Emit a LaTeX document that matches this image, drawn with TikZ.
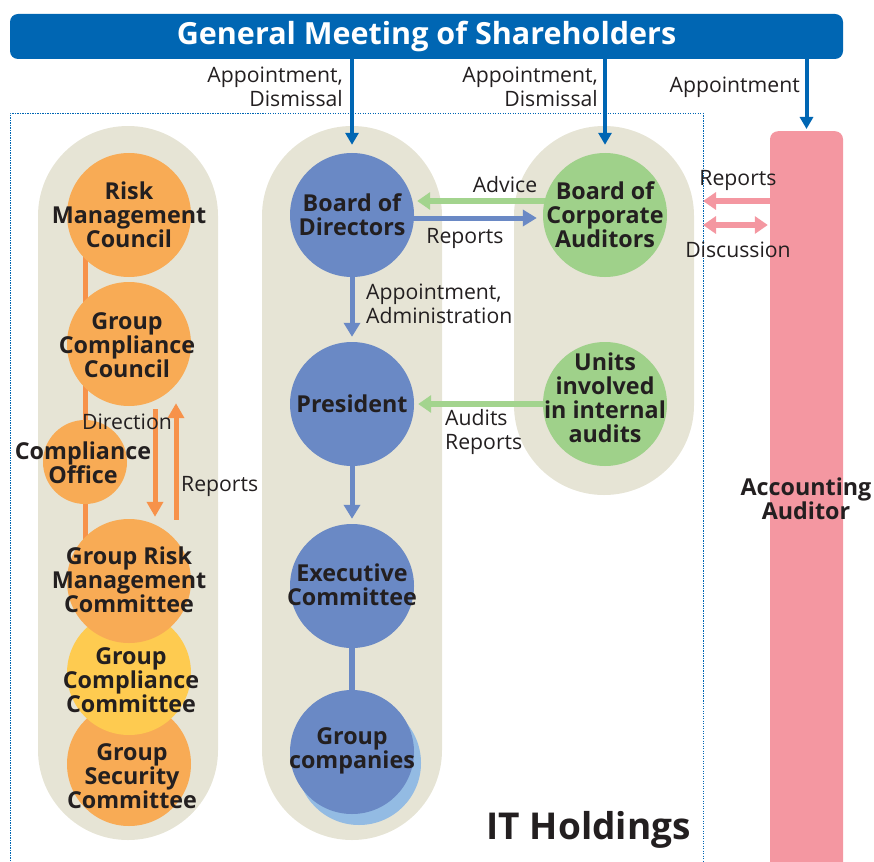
\documentclass[tikz,border=0pt]{standalone}
\usepackage{fontspec}
\setmainfont{Open Sans}
\usetikzlibrary{arrows.meta}
\pgfdeclarelayer{bg}
\pgfdeclarelayer{mid}
\pgfsetlayers{bg,mid,main}
\definecolor{topblue}{HTML}{0066B3}
\definecolor{pillc}{HTML}{E6E4D5}
\definecolor{orangec}{HTML}{F8AB55}
\definecolor{orangel}{HTML}{F7924A}
\definecolor{yellowc}{HTML}{FECB50}
\definecolor{bluec}{HTML}{6A89C5}
\definecolor{shadowc}{HTML}{93BBE3}
\definecolor{greenc}{HTML}{9FD18A}
\definecolor{greena}{HTML}{A3D48E}
\definecolor{pinkc}{HTML}{F497A1}
\definecolor{txt}{HTML}{231F20}
\begin{document}
\begin{tikzpicture}[x=1pt,y=-1pt,
  circ/.style={circle,minimum size=124pt,inner sep=0pt},
  btxt/.style={align=center,text=txt,font=\bfseries\fontsize{23.3}{24}\selectfont,inner sep=0pt},
  lbl/.style={text=txt,font=\fontsize{21.2}{24}\selectfont,inner sep=0pt},
  pill/.style={fill=pillc,rounded corners=89.9pt},
  tarr/.style={draw=topblue,line width=4pt,-{Triangle[width=13pt,length=12pt]}},
  barr/.style={draw=bluec,line width=5pt,-{Triangle[width=16pt,length=14pt]}},
  oarr/.style={draw=orangel,line width=5pt,-{Triangle[width=16pt,length=15pt]}},
  garr/.style={draw=greena,line width=6pt,-{Triangle[width=17pt,length=13pt]}},
  parr/.style={draw=pinkc,line width=6pt,-{Triangle[width=17pt,length=13pt]}},
  pdarr/.style={draw=pinkc,line width=6pt,{Triangle[width=17pt,length=13pt]}-{Triangle[width=17pt,length=13pt]}}
]
\useasboundingbox (0,0) rectangle (874,861);

% beige pills
\begin{pgfonlayer}{bg}
\fill[pill] (38,126) rectangle (218,840);
\fill[pill] (262,126) rectangle (442,840);
\fill[pill] (514,126) rectangle (694,495);
\draw[topblue,line width=0.9pt,dash pattern=on 1.2pt off 1.3pt] (10,861) -- (10,113.5) -- (703,113.5) -- (703,861);
\end{pgfonlayer}

% top bar
\node[fill=topblue,rounded corners=8pt,minimum width=833pt,minimum height=45pt,inner sep=0pt,
      text=white,font=\bfseries\fontsize{30.5}{32}\selectfont] (gms) at (426.5,36.5) {General Meeting of Shareholders};

% accounting auditor bar
\node[fill=pinkc,rounded corners=8pt,minimum width=73pt,minimum height=746pt,inner sep=0pt,anchor=north] (acc) at (806.5,131) {};
\node[btxt] (acct) at (806,499) {Accounting\\Auditor};

% left column circles
\node[circ,fill=orangec] (gsc) at (129,764) {};
\node[circ,fill=yellowc] (gccm) at (129,673) {};
\node[circ,fill=orangec] (grmc) at (129,581) {};
\node[circ,fill=orangec] (rmc) at (129,215) {};
\node[circ,fill=orangec] (gcc) at (129,344) {};
\node[circle,minimum size=84pt,inner sep=0pt,fill=orangec] (co) at (85,462) {};

% middle column circles
\node[circ,fill=bluec] (bod) at (352,215) {};
\node[circ,fill=bluec] (pres) at (352,404) {};
\node[circ,fill=bluec] (exec) at (352,586) {};
\node[circ,fill=shadowc] (gcs) at (359,763) {};
\node[circ,fill=bluec] (gc) at (352,752) {};

% right column circles
\node[circ,fill=greenc] (bca) at (605,215) {};
\node[circ,fill=greenc] (units) at (605,404) {};

% connectors (behind circles)
\begin{pgfonlayer}{mid}
\draw[orangel,line width=5pt] (rmc.center -| co.center) -- (grmc.center -| co.center);
\draw[bluec,line width=6pt] (exec) -- (gc);
\draw[tarr,shorten >=8pt] (gms.south -| bod.north) -- (bod.north);
\draw[tarr,shorten >=8pt] (gms.south -| bca.north) -- (bca.north);
\draw[tarr,shorten >=2pt] (gms.south -| acc.north) -- (acc.north);
\draw[barr,shorten >=5pt] (bod) -- (pres);
\draw[barr,shorten >=5pt] (pres) -- (exec);
\draw[garr] ([yshift=14pt]bca.center) -- ([xshift=3pt,yshift=14pt]bod.east);
\draw[barr] ([yshift=-3pt]bod.center) -- ([xshift=-6pt,yshift=-3pt]bca.west);
\draw[garr] (units.center) -- ([xshift=4pt]pres.east);
\draw[oarr,shorten <=3pt,shorten >=2pt] ([xshift=26pt]gcc.south) -- ([xshift=26pt]grmc.north);
\draw[oarr,shorten <=-1pt,shorten >=-3pt] ([xshift=47pt]grmc.north) -- ([xshift=47pt]gcc.south);
\coordinate (pr1) at (703,201);
\coordinate (pr2) at (703,225);
\draw[parr] (pr1 -| acc.west) -- (pr1);
\draw[pdarr] (pr2) -- ([xshift=-2pt]pr2 -| acc.west);
\end{pgfonlayer}

% circle texts
\node[btxt] (rmct) at (129,215) {Risk\\Management\\Council};
\node[btxt] (gcct) at (127,345) {Group\\Compliance\\Council};
\node[btxt] (cot) at (83,463) {Compliance\\Office};
\node[btxt] (grmct) at (129,580) {Group Risk\\Management\\Committee};
\node[btxt] (gccmt) at (131,680) {Group\\Compliance\\Committee};
\node[btxt] (gsct) at (132,776) {Group\\Security\\Committee};
\node[btxt] (bodt) at (352,215) {Board of\\Directors};
\node[btxt] (prest) at (352,404) {President};
\node[btxt] (exect) at (352,585) {Executive\\Committee};
\node[btxt] (gct) at (352,751) {Group\\companies};
\node[btxt] (bcat) at (605,215) {Board of\\Corporate\\Auditors};
\node[btxt] (unitst) at (605,398) {Units\\involved\\in internal\\audits};

% labels
\node[lbl,align=right,anchor=east] (l1) at (343,87) {Appointment,\\Dismissal};
\node[lbl,align=right,anchor=east] (l2) at (598,87) {Appointment,\\Dismissal};
\node[lbl,anchor=east] (l3) at (800,87) {Appointment};
\node[lbl] (l4) at (505,185) {Advice};
\node[lbl] (l5) at (465,238) {Reports};
\node[lbl,align=left,anchor=west] (l6) at (366,304) {Appointment,\\Administration};
\node[lbl,align=left,anchor=west] (l7) at (445,432) {Audits\\Reports};
\node[lbl] (l8) at (127,422) {Direction};
\node[lbl,anchor=west] (l9) at (181,486) {Reports};
\node[lbl] (l10) at (738,180) {Reports};
\node[lbl] (l11) at (738,250) {Discussion};
\node[text=txt,font=\bfseries\fontsize{37}{40}\selectfont,inner sep=0pt,anchor=east] (ith) at (691,830) {IT Holdings};
\end{tikzpicture}
\end{document}
